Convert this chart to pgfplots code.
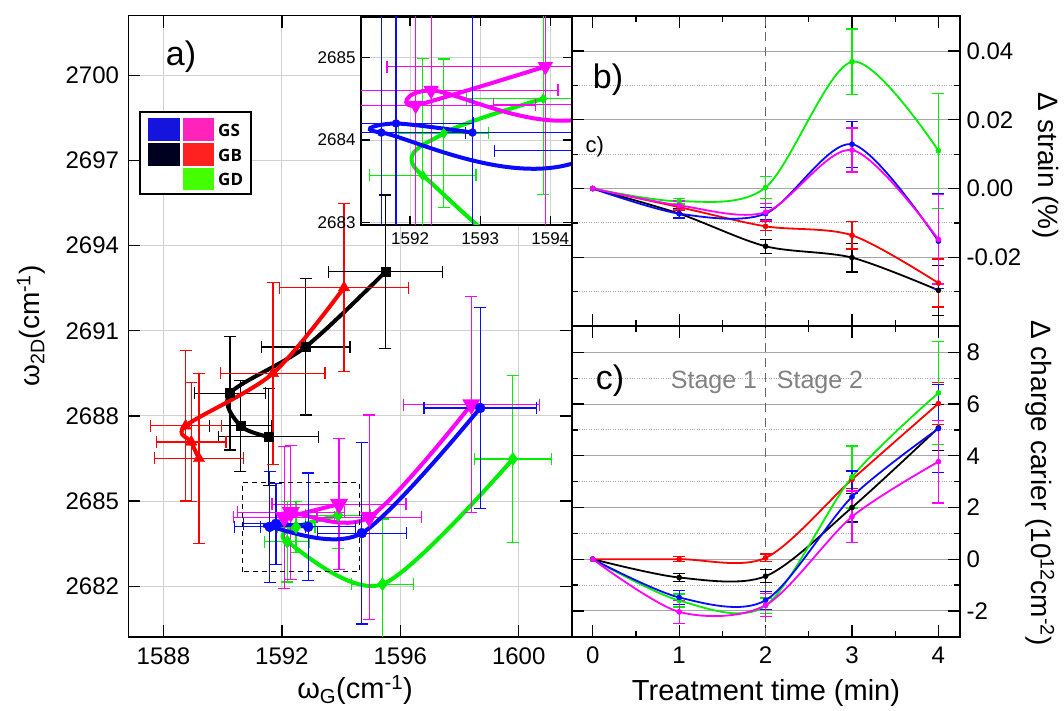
\documentclass[border=0pt]{standalone}
\usepackage{pgfplots}
\pgfplotsset{compat=1.18}
\usepackage{pgfplotstable}
\usepackage{fontspec}
\setmainfont{Liberation Sans}
\newfontfamily\legfont{Open Sans}

\definecolor{cblue}{RGB}{10,10,255}
\definecolor{cmag}{RGB}{255,0,255}
\definecolor{cred}{RGB}{255,0,0}
\definecolor{cgreen}{RGB}{0,238,0}
\definecolor{gridc}{RGB}{208,208,208}
\definecolor{gridb}{RGB}{165,165,165}
\definecolor{stagec}{RGB}{128,128,128}
\definecolor{lgblue}{RGB}{20,20,220}
\definecolor{lgmag}{RGB}{255,34,187}
\definecolor{lgnavy}{RGB}{0,0,32}
\definecolor{lgred}{RGB}{255,32,32}
\definecolor{lggreen}{RGB}{68,255,0}

% ---------- panel a: omega_G, omega_2D, errors ----------
\pgfplotstableread{
x y ex ey
1595.50 2693.08 1.93 2.70
1592.80 2690.43 1.50 2.40
1590.25 2688.80 1.20 2.00
1590.60 2687.65 1.05 1.60
1591.55 2687.26 1.70 1.70
}\aBlack
\pgfplotstableread{
x y ex ey
1594.10 2692.52 2.17 2.96
1591.70 2689.50 1.76 3.20
1588.75 2687.65 1.20 2.65
1588.94 2687.08 1.17 2.10
1589.20 2686.50 1.50 3.00
}\aRed
\pgfplotstableread{
x y ex ey
1592.89 2684.09 1.60 1.90
1591.80 2684.20 1.10 1.43
1591.59 2684.09 1.20 1.96
1594.70 2683.87 1.50 3.20
1598.70 2688.28 1.90 3.55
}\aBlue
\pgfplotstableread{
x y ex ey
1593.93 2684.89 2.26 2.30
1592.08 2684.42 1.71 2.50
1592.30 2684.60 1.81 2.37
1594.95 2684.43 1.76 3.60
1598.40 2688.40 2.30 3.80
}\aMag
\pgfplotstableread{
x y ex ey
1593.90 2684.50 1.10 1.16
1592.48 2684.08 0.64 0.90
1592.18 2683.57 0.76 1.42
1595.40 2682.07 1.05 2.30
1599.80 2686.48 1.30 2.95
}\aGreen

% ---------- panels b, c: time, strain, err, charge, err ----------
\pgfplotstableread{
t s es c ec
0 0 0 0 0
1 -0.0073 0.0015 -0.71 0.15
2 -0.0168 0.0020 -0.66 0.25
3 -0.0201 0.0042 2.00 0.53
4 -0.0296 0.0073 5.08 0.89
}\tBlack
\pgfplotstableread{
t s es c ec
0 0 0 0 0
1 -0.0054 0.0010 0.00 0.10
2 -0.0110 0.0013 0.05 0.15
3 -0.0136 0.0040 3.08 0.35
4 -0.0275 0.0070 6.02 0.80
}\tRed
\pgfplotstableread{
t s es c ec
0 0 0 0 0
1 -0.0073 0.0013 -1.48 0.27
2 -0.0073 0.0018 -1.59 0.35
3 0.0129 0.0067 2.41 1.00
4 -0.0153 0.0138 5.05 1.70
}\tBlue
\pgfplotstableread{
t s es c ec
0 0 0 0 0
1 -0.0049 0.0013 -2.04 0.45
2 -0.0069 0.0025 -1.78 0.45
3 0.0112 0.0064 1.64 1.00
4 -0.0148 0.0130 3.77 1.60
}\tMag
\pgfplotstableread{
t s es c ec
0 0 0 0 0
1 -0.0037 0.0008 -1.60 0.25
2 0.0003 0.0033 -1.80 0.30
3 0.0369 0.0095 3.18 1.20
4 0.0110 0.0167 6.43 2.00
}\tGreen

\pgfplotsset{
  errA/.style={
    /pgfplots/error bars/x dir=both, /pgfplots/error bars/x explicit,
    /pgfplots/error bars/y dir=both, /pgfplots/error bars/y explicit,
    /pgfplots/error bars/error bar style={line width=1.2pt, solid},
    /pgfplots/error bars/error mark options={rotate=90, mark size=6pt, line width=1.2pt, solid}},
  errB/.style={
    /pgfplots/error bars/y dir=both, /pgfplots/error bars/y explicit,
    /pgfplots/error bars/error bar style={line width=1.2pt, solid},
    /pgfplots/error bars/error mark options={rotate=90, mark size=6pt, line width=1.2pt, solid}},
  aline/.style={line width=4pt, smooth, mark options={solid, line width=0.4pt}},
  bline/.style={line width=1.8pt, smooth, mark=*, mark size=2.6pt, mark options={solid, line width=0.4pt}},
  paxis/.style={
    scale only axis, anchor=south west,
    width=443.5pt, height=621pt,
    xmin=1586.82, xmax=1601.8, ymin=2680.22, ymax=2702.1,
  },
  rpanel/.style={
    scale only axis, anchor=south west, width=388pt,
    xmin=-0.24, xmax=4.25,
    xtick={0,1,2,3,4}, minor xtick={0.5,1.5,2.5,3.5},
    tick align=inside, major tick length=12pt, minor tick length=6pt,
    yticklabel pos=right,
    ymajorgrids, yminorgrids,
    major grid style={draw=gridb, line width=1pt},
    minor grid style={draw=gridb, dotted, line width=1pt},
    axis line style={line width=1.6pt},
    tick style={black, line width=1.3pt},
    tick label style={font=\fontsize{24}{24}\selectfont},
    yticklabel style={xshift=3pt},
    /pgf/number format/assume math mode=true,
  },
}

\begin{document}
\begin{tikzpicture}[x=1pt,y=1pt]
\useasboundingbox (0,0) rectangle (1064,710);

% ================= panel a =================
\begin{axis}[paxis,
  at={(128.5pt,73.3pt)},
  xtick={1588,1592,1596,1600}, ytick={2682,2685,...,2700},
  tick align=inside, major tick length=12pt,
  grid=major, major grid style={draw=gridc, line width=0.9pt},
  axis line style={line width=1.6pt},
  tick style={black, line width=1.3pt},
  tick label style={font=\fontsize{24}{24}\selectfont},
  xticklabel style={yshift=-8pt},
  yticklabel style={xshift=-6pt},
  /pgf/number format/assume math mode=true,
  /pgf/number format/1000 sep={},
]
\addplot[color=black, aline, mark=square*, mark size=4.5pt, errA]
  table[x=x,y=y,x error=ex,y error=ey]{\aBlack};
\addplot[color=cred, aline, mark=triangle*, mark size=6.5pt, errA]
  table[x=x,y=y,x error=ex,y error=ey]{\aRed};
\addplot[color=cgreen, aline, mark=diamond*, mark size=6.5pt, errA]
  table[x=x,y=y,x error=ex,y error=ey]{\aGreen};
\addplot[color=cmag, aline, mark=triangle*, mark size=6.5pt, mark options={rotate=180}, errA]
  table[x=x,y=y,x error=ex,y error=ey]{\aMag};
\addplot[color=cblue, aline, mark=*, mark size=5pt, errA]
  table[x=x,y=y,x error=ex,y error=ey]{\aBlue};
\draw[line width=1.2pt, dash pattern=on 5pt off 4pt]
  (axis cs:1590.68,2682.51) rectangle (axis cs:1594.61,2685.66);
\end{axis}

% ================= inset =================
\begin{axis}[
  at={(361pt,485pt)}, anchor=south west, scale only axis,
  width=211pt, height=208pt,
  xmin=1591.3, xmax=1594.31, ymin=2682.97, ymax=2685.49,
  xtick={1592,1593,1594}, ytick={2683,2684,2685},
  axis background/.style={fill=white},
  tick align=inside, major tick length=9pt,
  grid=major, major grid style={draw=gridc, line width=0.9pt},
  axis line style={line width=1.6pt},
  tick style={black, line width=1.3pt},
  tick label style={font=\fontsize{17}{17}\selectfont},
  xticklabel style={yshift=-4pt},
  yticklabel style={xshift=-2pt},
  /pgf/number format/assume math mode=true,
  /pgf/number format/1000 sep={},
]
\addplot[color=cgreen, aline, mark=diamond*, mark size=5pt, errA]
  table[x=x,y=y,x error=ex,y error=ey]{\aGreen};
\addplot[color=cmag, aline, mark=triangle*, mark size=5pt, mark options={rotate=180}, errA]
  table[x=x,y=y,x error=ex,y error=ey]{\aMag};
\addplot[color=cblue, aline, mark=*, mark size=4pt, errA]
  table[x=x,y=y,x error=ex,y error=ey]{\aBlue};
\end{axis}

% black error bar of panel a drawn over the inset, as in the original
\begin{axis}[paxis, at={(128.5pt,73.3pt)}, hide axis]
\addplot[color=black, only marks, mark=none, errA, restrict x to domain=1595:1596]
  table[x=x,y=y,x error=ex,y error=ey]{\aBlack};
\end{axis}

% ================= panel b =================
\begin{axis}[rpanel,
  at={(572pt,384pt)}, height=310pt,
  ymin=-0.04, ymax=0.0502,
  ytick={-0.02,0,0.02,0.04}, minor ytick={-0.03,-0.01,0.01,0.03},
  xticklabels={}, scaled y ticks=false,
  yticklabel style={/pgf/number format/.cd, fixed, fixed zerofill, precision=2},
]
\addplot[color=gray!80!black, line width=1pt, dash pattern=on 9pt off 6pt] coordinates {(2,-0.04) (2,0.0502)};
\addplot[color=black, bline] table[x=t,y=s]{\tBlack};
\addplot[color=black, only marks, mark=none, errB, restrict x to domain=0.5:4.5] table[x=t,y=s,y error=es]{\tBlack};
\addplot[color=cred, bline] table[x=t,y=s]{\tRed};
\addplot[color=cred, only marks, mark=none, errB, restrict x to domain=0.5:4.5] table[x=t,y=s,y error=es]{\tRed};
\addplot[color=cgreen, bline] table[x=t,y=s]{\tGreen};
\addplot[color=cgreen, only marks, mark=none, errB, restrict x to domain=0.5:4.5] table[x=t,y=s,y error=es]{\tGreen};
\addplot[color=cblue, bline] table[x=t,y=s]{\tBlue};
\addplot[color=cblue, only marks, mark=none, errB, restrict x to domain=0.5:4.5] table[x=t,y=s,y error=es]{\tBlue};
\addplot[color=cmag, bline] table[x=t,y=s]{\tMag};
\addplot[color=cmag, only marks, mark=none, errB, restrict x to domain=0.5:4.5] table[x=t,y=s,y error=es]{\tMag};
\end{axis}

% ================= panel c =================
\begin{axis}[rpanel,
  at={(572pt,73.3pt)}, height=310.7pt,
  ymin=-3, ymax=9.02,
  ytick={-2,0,2,4,6,8}, minor ytick={-1,1,3,5,7},
  xticklabel style={yshift=-7pt},
]
\addplot[color=gray!80!black, line width=1pt, dash pattern=on 9pt off 6pt] coordinates {(2,-3) (2,9.02)};
\addplot[color=black, bline] table[x=t,y=c]{\tBlack};
\addplot[color=black, only marks, mark=none, errB, restrict x to domain=0.5:4.5] table[x=t,y=c,y error=ec]{\tBlack};
\addplot[color=cred, bline] table[x=t,y=c]{\tRed};
\addplot[color=cred, only marks, mark=none, errB, restrict x to domain=0.5:4.5] table[x=t,y=c,y error=ec]{\tRed};
\addplot[color=cgreen, bline] table[x=t,y=c]{\tGreen};
\addplot[color=cgreen, only marks, mark=none, errB, restrict x to domain=0.5:4.5] table[x=t,y=c,y error=ec]{\tGreen};
\addplot[color=cblue, bline] table[x=t,y=c]{\tBlue};
\addplot[color=cblue, only marks, mark=none, errB, restrict x to domain=0.5:4.5] table[x=t,y=c,y error=ec]{\tBlue};
\addplot[color=cmag, bline] table[x=t,y=c]{\tMag};
\addplot[color=cmag, only marks, mark=none, errB, restrict x to domain=0.5:4.5] table[x=t,y=c,y error=ec]{\tMag};
\end{axis}

% ================= legend (panel a) =================
\draw[line width=1.3pt, fill=white] (140,598) rectangle (251,516);
\fill[lgblue] (147.7,592) rectangle (180,569);
\fill[lgmag] (182.7,592) rectangle (214.3,569);
\fill[lgnavy] (147.7,567) rectangle (180,544);
\fill[lgred] (182.7,567) rectangle (214.3,544);
\fill[lggreen] (182.7,542) rectangle (214.3,520);
\node[anchor=west, inner sep=0, font=\legfont\bfseries\fontsize{17}{17}\selectfont] at (218,580) {GS};
\node[anchor=west, inner sep=0, font=\legfont\bfseries\fontsize{17}{17}\selectfont] at (218,555) {GB};
\node[anchor=west, inner sep=0, font=\legfont\bfseries\fontsize{17}{17}\selectfont] at (218,531) {GD};

% ================= texts =================
\node[font=\fontsize{34}{34}\selectfont] at (181,653) {a)};
\node[font=\fontsize{34}{34}\selectfont] at (608,630) {b)};
\node[anchor=west, font=\fontsize{22}{22}\selectfont] at (582,563) {c)};
\node[font=\fontsize{34}{34}\selectfont] at (610,329) {c)};
\node[text=stagec, font=\fontsize{25}{25}\selectfont] at (714,328) {Stage 1};
\node[text=stagec, font=\fontsize{25}{25}\selectfont] at (820,328) {Stage 2};

\node[rotate=90, font=\fontsize{28}{28}\selectfont] at (31,384) {ω\textsubscript{2D}(cm\textsuperscript{-1})};
\node[anchor=north, inner sep=0, font=\fontsize{29}{29}\selectfont] at (355,35) {ω\textsubscript{G}(cm\textsuperscript{-1})};
\node[anchor=north, inner sep=0, font=\fontsize{29}{29}\selectfont] at (766,31) {Treatment time (min)};
\node[rotate=-90, font=\fontsize{28}{28}\selectfont] at (1046,544) {Δ strain (\%)};
\node[rotate=-90, font=\fontsize{28}{28}\selectfont] at (1040,227) {Δ charge carier (10\textsuperscript{12}cm\textsuperscript{-2})};
\end{tikzpicture}
\end{document}
